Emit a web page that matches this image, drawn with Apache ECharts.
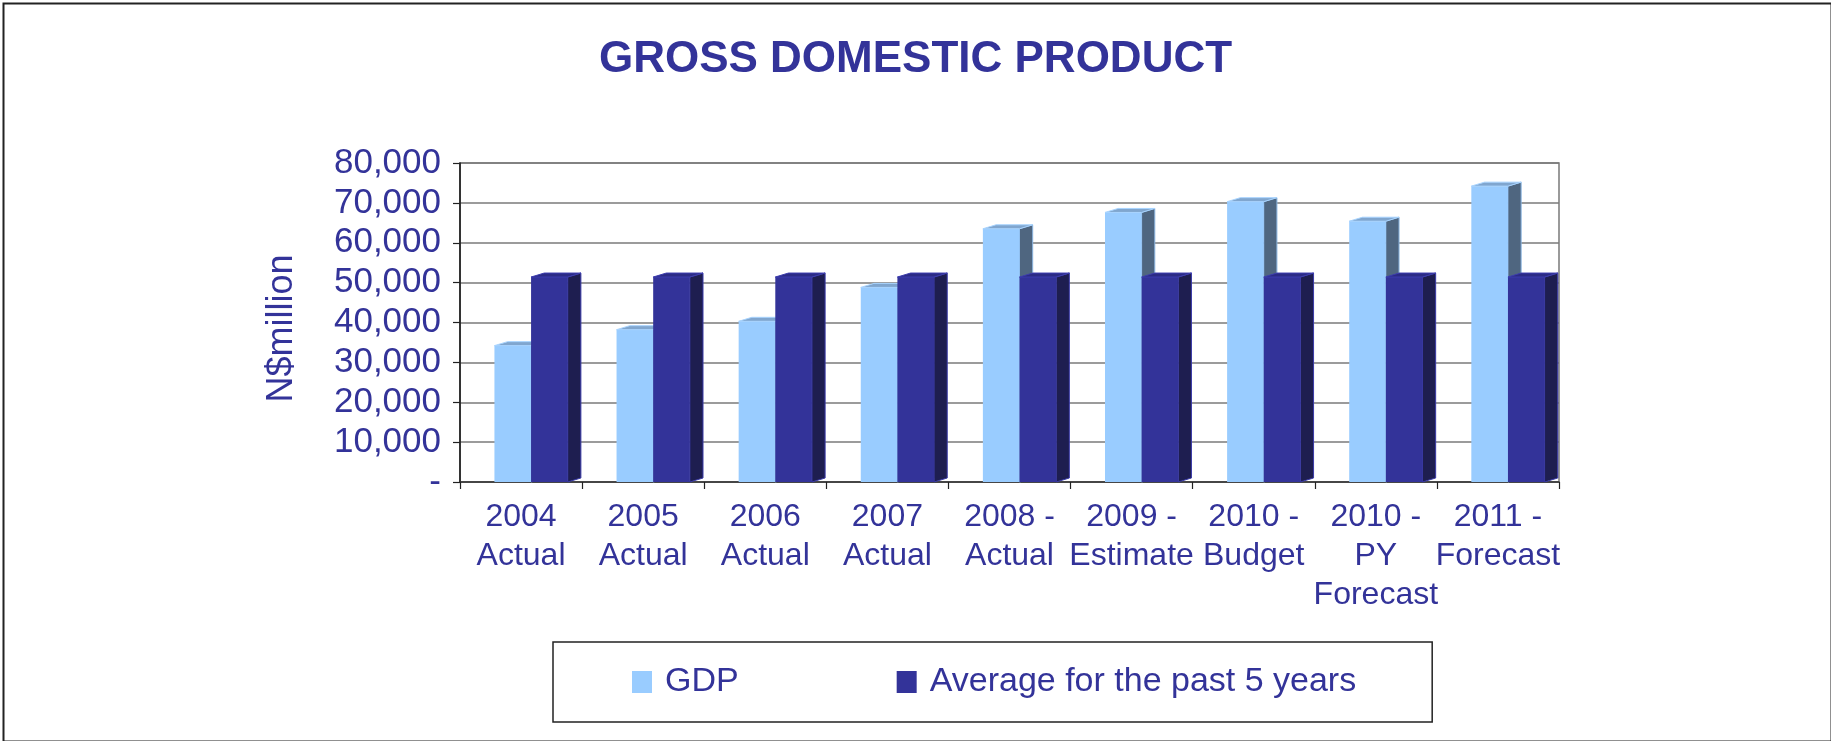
<!DOCTYPE html>
<html>
<head>
<meta charset="utf-8">
<title>Gross Domestic Product</title>
<script src="https://cdn.jsdelivr.net/npm/echarts@6/dist/echarts.min.js"></script>
<style>
  html, body { margin: 0; padding: 0; background: #ffffff; }
  #chart { width: 1831px; height: 741px; }
</style>
</head>
<body>
<div id="chart"></div>
<script>
// Category labels (line breaks as printed under each column)
const categories = [
  '2004\nActual',
  '2005\nActual',
  '2006\nActual',
  '2007\nActual',
  '2008 -\nActual',
  '2009 -\nEstimate',
  '2010 -\nBudget',
  '2010 -\nPY\nForecast',
  '2011 -\nForecast'
];

// N$ million
const gdp = [34200, 38200, 40300, 48800, 63500, 67600, 70300, 65400, 74200];
const fiveYearAverage = [51400, 51400, 51400, 51400, 51400, 51400, 51400, 51400, 51400];

// Value axis ticks
const yMin = 0;
const yMax = 80000;
const yStep = 10000;

const INK = '#333399';
const FONT = '"Liberation Sans", Arial, sans-serif';

// Shaded block column: front face, top face and right side face
function blockColumn(offsetRatio, faces) {
  return function (params, api) {
    const idx = api.value(0);
    const val = api.value(1);
    const topPt = api.coord([idx, val]);
    const basePt = api.coord([idx, 0]);
    const bw = api.size([1, 0])[0];
    const w = bw * 0.3;
    const dx = bw * 0.108;
    const dy = 4;
    const x0 = topPt[0] + bw * offsetRatio;
    const yT = topPt[1];
    const yB = basePt[1];
    return {
      type: 'group',
      children: [
        {
          type: 'polygon',
          shape: { points: [[x0 + w, yT], [x0 + w + dx, yT - dy], [x0 + w + dx, yB - dy], [x0 + w, yB]] },
          style: { fill: faces.side, stroke: faces.sideEdge, lineWidth: 1 }
        },
        {
          type: 'rect',
          shape: { x: x0, y: yT, width: w, height: yB - yT },
          style: { fill: faces.front }
        },
        {
          type: 'polygon',
          shape: { points: [[x0, yT], [x0 + dx, yT - dy], [x0 + w + dx, yT - dy], [x0 + w, yT]] },
          style: { fill: faces.top, stroke: faces.topEdge, lineWidth: 1 }
        }
      ]
    };
  };
}

const chart = echarts.init(document.getElementById('chart'), null, { renderer: 'canvas' });

chart.setOption({
  backgroundColor: '#ffffff',
  animation: false,
  textStyle: { fontFamily: FONT },
  title: {
    text: 'GROSS DOMESTIC PRODUCT',
    left: 'center',
    top: 33,
    textStyle: { color: INK, fontSize: 44, fontWeight: 'bold', fontFamily: FONT }
  },
  legend: {
    left: 553,
    top: 642,
    orient: 'horizontal',
    padding: [23, 76, 23, 79],
    itemWidth: 20,
    itemHeight: 22,
    itemGap: 158,
    borderColor: '#222222',
    borderWidth: 1.5,
    backgroundColor: '#ffffff',
    icon: 'rect',
    textStyle: { color: INK, fontSize: 34, fontFamily: FONT, padding: [0, 0, 0, 8] },
    data: ['GDP', 'Average for the past 5 years']
  },
  grid: {
    left: 460,
    right: 272,
    top: 163,
    bottom: 259,
    show: true,
    borderColor: '#7a7a7a',
    borderWidth: 1.5,
    containLabel: false
  },
  xAxis: {
    type: 'category',
    data: categories,
    boundaryGap: true,
    axisLine: { show: true, lineStyle: { color: '#333333', width: 1.5 } },
    axisTick: { show: true, length: 7, lineStyle: { color: '#222222', width: 1.2 } },
    axisLabel: {
      interval: 0,
      margin: 16,
      color: INK,
      fontSize: 32,
      lineHeight: 39,
      fontFamily: FONT,
      align: 'center'
    },
    splitLine: { show: false }
  },
  yAxis: {
    type: 'value',
    min: yMin,
    max: yMax,
    interval: yStep,
    name: 'N$million',
    nameLocation: 'middle',
    nameGap: 160,
    nameRotate: 90,
    nameTextStyle: { color: INK, fontSize: 36, fontFamily: FONT, padding: [0, 12, 0, 0] },
    axisLine: { show: true, lineStyle: { color: '#111111', width: 1.5 } },
    axisTick: { show: true, length: 7, lineStyle: { color: '#222222', width: 1.2 } },
    axisLabel: {
      margin: 19,
      color: INK,
      fontSize: 35,
      fontFamily: FONT,
      formatter: function (v) { return v === 0 ? '-' : v.toLocaleString('en-US'); }
    },
    splitLine: { show: true, lineStyle: { color: '#7a7a7a', width: 1.5 } }
  },
  graphic: [
    {
      type: 'rect',
      left: 1,
      top: 1,
      shape: { width: 1828, height: 738 },
      style: { fill: 'none', stroke: '#222222', lineWidth: 2 },
      silent: true,
      z: 100
    }
  ],
  series: [
    {
      name: 'GDP',
      type: 'custom',
      itemStyle: { color: '#99ccff' },
      encode: { x: 0, y: 1 },
      data: gdp.map(function (v, i) { return [i, v]; }),
      renderItem: blockColumn(-0.218, {
        front: '#99ccff',
        side: '#4f6680',
        sideEdge: '#8ab4e0',
        top: '#80a6cf',
        topEdge: '#a8d4ff'
      }),
      z: 2
    },
    {
      name: 'Average for the past 5 years',
      type: 'custom',
      itemStyle: { color: '#333399' },
      encode: { x: 0, y: 1 },
      data: fiveYearAverage.map(function (v, i) { return [i, v]; }),
      renderItem: blockColumn(0.082, {
        front: '#333399',
        side: '#1e1e50',
        sideEdge: '#3a3aa8',
        top: '#2b2b85',
        topEdge: '#3d3dae'
      }),
      z: 3
    }
  ]
});
</script>
</body>
</html>
